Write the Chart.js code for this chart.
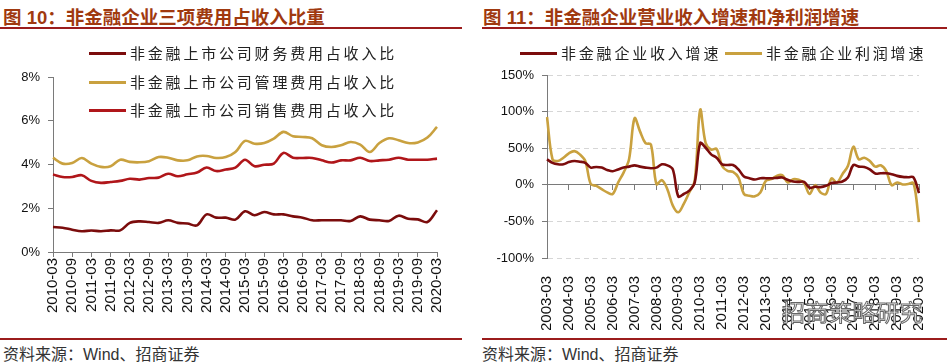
<!DOCTYPE html>
<html>
<head>
<meta charset="utf-8">
<script src="https://cdn.jsdelivr.net/npm/chart.js@4"></script>
<style>
  body { margin: 0; width: 947px; height: 363px; background: #fff; position: relative; overflow: hidden;
         font-family: "Liberation Sans", "Noto Sans CJK SC", sans-serif; }
  .title { position: absolute; top: 3px; font: bold 18.5px "Liberation Sans", "Noto Sans CJK SC"; color: #A0390F; white-space: nowrap; }
  .rule { position: absolute; height: 2px; background: #9B1C1C; }
  .src { position: absolute; top: 341px; font: 16px "Liberation Sans", "Noto Sans CJK SC"; color: #333; white-space: nowrap; }
  .box { position: absolute; }
  .leg { position: absolute; font: 15px "Noto Sans CJK SC"; letter-spacing: 2.8px; color: #222; white-space: nowrap; line-height: 18px; }
  .leg i { display: inline-block; width: 37px; height: 3px; vertical-align: middle; margin-right: 4px; position: relative; top: -1px; }
  .wm { position: absolute; left: 782px; top: 294px; font: 23px "Noto Sans CJK SC"; color: #fff;
        -webkit-text-stroke: 1px #666; white-space: nowrap; letter-spacing: 0.5px; }
</style>
</head>
<body>
<div class="title" style="left:3px">图 10：非金融企业三项费用占收入比重</div>
<div class="rule" style="left:0;width:462px;top:27px"></div>
<div class="title" style="left:483px">图 11：非金融企业营业收入增速和净利润增速</div>
<div class="rule" style="left:482px;width:465px;top:27px"></div>

<div class="box" style="left:0;top:40px;width:470px;height:290px"><canvas id="c1" width="470" height="290"></canvas></div>
<div class="box" style="left:475px;top:40px;width:472px;height:290px"><canvas id="c2" width="472" height="290"></canvas></div>

<div class="leg" style="left:89px;top:44px"><i style="background:#7B0C0C"></i>非金融上市公司财务费用占收入比</div>
<div class="leg" style="left:89px;top:73px"><i style="background:#C9A13F"></i>非金融上市公司管理费用占收入比</div>
<div class="leg" style="left:89px;top:101px"><i style="background:#B0161A"></i>非金融上市公司销售费用占收入比</div>

<div class="leg" style="left:520px;top:44px"><i style="background:#7B0C0C"></i>非金融企业收入增速</div>
<div class="leg" style="left:725px;top:44px"><i style="background:#C9A13F"></i>非金融企业利润增速</div>

<div class="wm">招商策略研究</div>

<div class="rule" style="left:0;width:462px;top:338px"></div>
<div class="rule" style="left:482px;width:465px;top:338px"></div>
<div class="src" style="left:3px">资料来源：Wind、招商证券</div>
<div class="src" style="left:482px">资料来源：Wind、招商证券</div>

<script>
// ---- 图10 quarterly 2010-03 .. 2020-03 (%)
const quarters10 = [];
for (let y = 2010; y <= 2020; y++) for (const m of ['03', '06', '09', '12']) if (!(y === 2020 && m !== '03')) quarters10.push(y + '-' + m);

const financeCost = [1.14, 1.11, 1.02, 0.95, 0.98, 0.95, 0.99, 0.99, 1.33, 1.40, 1.37, 1.33, 1.45, 1.33, 1.30, 1.22,
  1.72, 1.57, 1.57, 1.48, 1.86, 1.68, 1.83, 1.72, 1.72, 1.63, 1.57, 1.45, 1.45, 1.45, 1.45, 1.42,
  1.63, 1.48, 1.45, 1.42, 1.66, 1.52, 1.49, 1.37, 1.91];
const adminCost = [4.31, 4.04, 4.07, 4.30, 4.04, 3.89, 3.92, 4.22, 4.12, 4.10, 4.15, 4.34, 4.31, 4.19, 4.19, 4.37,
  4.39, 4.30, 4.34, 4.57, 5.08, 4.95, 4.98, 5.18, 5.49, 5.29, 5.26, 5.20, 4.88, 4.80, 4.88, 5.03,
  4.91, 4.57, 4.98, 5.20, 5.11, 4.98, 5.01, 5.23, 5.72];
const sellingCost = [3.54, 3.43, 3.43, 3.51, 3.25, 3.16, 3.20, 3.25, 3.35, 3.31, 3.38, 3.40, 3.58, 3.46, 3.55, 3.63,
  3.86, 3.70, 3.77, 3.86, 4.22, 3.92, 3.99, 4.04, 4.53, 4.31, 4.30, 4.30, 4.19, 4.09, 4.19, 4.19,
  4.31, 4.16, 4.19, 4.22, 4.31, 4.22, 4.22, 4.22, 4.27];

// ---- 图11 quarterly 2003-03 .. 2020-03 (%)
const quarters11 = [];
for (let y = 2003; y <= 2020; y++) for (const m of ['03', '06', '09', '12']) if (!(y === 2020 && m !== '03')) quarters11.push(y + '-' + m);

const revenueGrowth = [34.8, 30, 28, 28, 31, 32.5, 31.6, 30, 23.5, 24.4, 23.5, 20.3, 18.5, 21, 23.5, 24.8,
  26.6, 24.8, 23.5, 22.6, 23.5, 28, 26.6, 21, -15.8, -12.6, -8, 3, 57, 50.6, 41.6, 37,
  28, 27, 27, 21, 11.3, 9, 7.2, 9, 9, 9, 9.5, 10, 6.8, 4.5, 4, 4,
  -4, -2.7, -3.2, -1.4, 2.3, 3.2, 4.5, 10, 27, 24.8, 24.4, 21, 15.4, 15.8, 15.8, 14.5,
  12.2, 10.8, 10.4, 10, -11.3];
const profitGrowth = [92.6, 35, 32.5, 37, 43, 46, 41.6, 32.5, 1, -1.4, -6, -10.4, -12.6, 3, 16.7, 34.8,
  91, 73, 57, 55, 1, 6.3, -6, -28.5, -37.5, -26, -10.4, 5.4, 102.5, 57, 48, 49,
  25.7, 19, 17.6, 10, -12.6, -15, -15.8, -10.4, 5.4, 7.7, 12.2, 13.1, 3.2, 7.7, 6.8, 2.3,
  -12.6, -0.5, -10.4, -12.6, 8.6, 3.2, 14.5, 25.7, 52, 34.8, 37, 32.5, 24.8, 26.6, 19, -0.5,
  3.2, 0.5, 1, 2.3, -51];

const AXIS = '#7a7a7a';
const tickFont = { family: 'Liberation Sans', size: 13 };

function line(data, color) {
  return { data, borderColor: color, backgroundColor: color, borderWidth: 2.6, pointRadius: 0, tension: 0.35, fill: false };
}

new Chart(document.getElementById('c1'), {
  type: 'line',
  data: {
    labels: quarters10,
    datasets: [line(financeCost, '#7B0C0C'), line(adminCost, '#C9A13F'), line(sellingCost, '#B0161A')]
  },
  options: {
    responsive: false, animation: false,
    layout: { padding: { top: 37, right: 33 } },
    plugins: { legend: { display: false }, tooltip: { enabled: false } },
    scales: {
      x: {
        afterFit: s => { s.height = 78; },
        grid: { drawOnChartArea: false, tickLength: 5, color: c => c.index % 2 === 0 ? AXIS : 'transparent' },
        border: { color: AXIS },
        ticks: { autoSkip: false, minRotation: 90, maxRotation: 90, padding: 1, color: '#111',
          font: { family: 'Liberation Sans', size: 15 },
          callback: (v, i) => i % 2 === 0 ? quarters10[i] : '' }
      },
      y: {
        min: 0, max: 8,
        afterFit: s => { s.width = 53; },
        grid: { drawOnChartArea: false, tickLength: 5, color: AXIS },
        border: { color: AXIS },
        ticks: { stepSize: 2, padding: 8, color: '#111', font: tickFont, callback: v => v + '%' }
      }
    }
  }
});

new Chart(document.getElementById('c2'), {
  type: 'line',
  data: {
    labels: quarters11,
    datasets: [line(revenueGrowth, '#7B0C0C'), line(profitGrowth, '#C9A13F')]
  },
  options: {
    responsive: false, animation: false,
    layout: { padding: { top: 35, right: 26 } },
    plugins: { legend: { display: false }, tooltip: { enabled: false } },
    scales: {
      x: {
        afterFit: s => { s.height = 72; },
        grid: { display: false },
        border: { display: false },
        ticks: { autoSkip: false, minRotation: 90, maxRotation: 90, padding: 10, color: '#111',
          font: { family: 'Liberation Sans', size: 15 },
          callback: (v, i) => i % 4 === 0 ? quarters11[i] : '' }
      },
      x2: {
        type: 'category', labels: quarters11, position: { y: 0 },
        grid: { drawOnChartArea: false, tickLength: 5, color: c => c.index % 4 === 0 ? AXIS : 'transparent' },
        border: { color: AXIS },
        ticks: { display: false }
      },
      y: {
        min: -100, max: 150,
        afterFit: s => { s.width = 72; },
        grid: { color: c => c.tick && c.tick.value === 0 ? 'transparent' : '#d6d6d6', tickColor: AXIS, tickLength: 5 },
        border: { color: AXIS, dash: [5, 4] },
        ticks: { stepSize: 50, padding: 8, color: '#111', font: tickFont, callback: v => v + '%' }
      }
    }
  }
});
</script>
</body>
</html>
